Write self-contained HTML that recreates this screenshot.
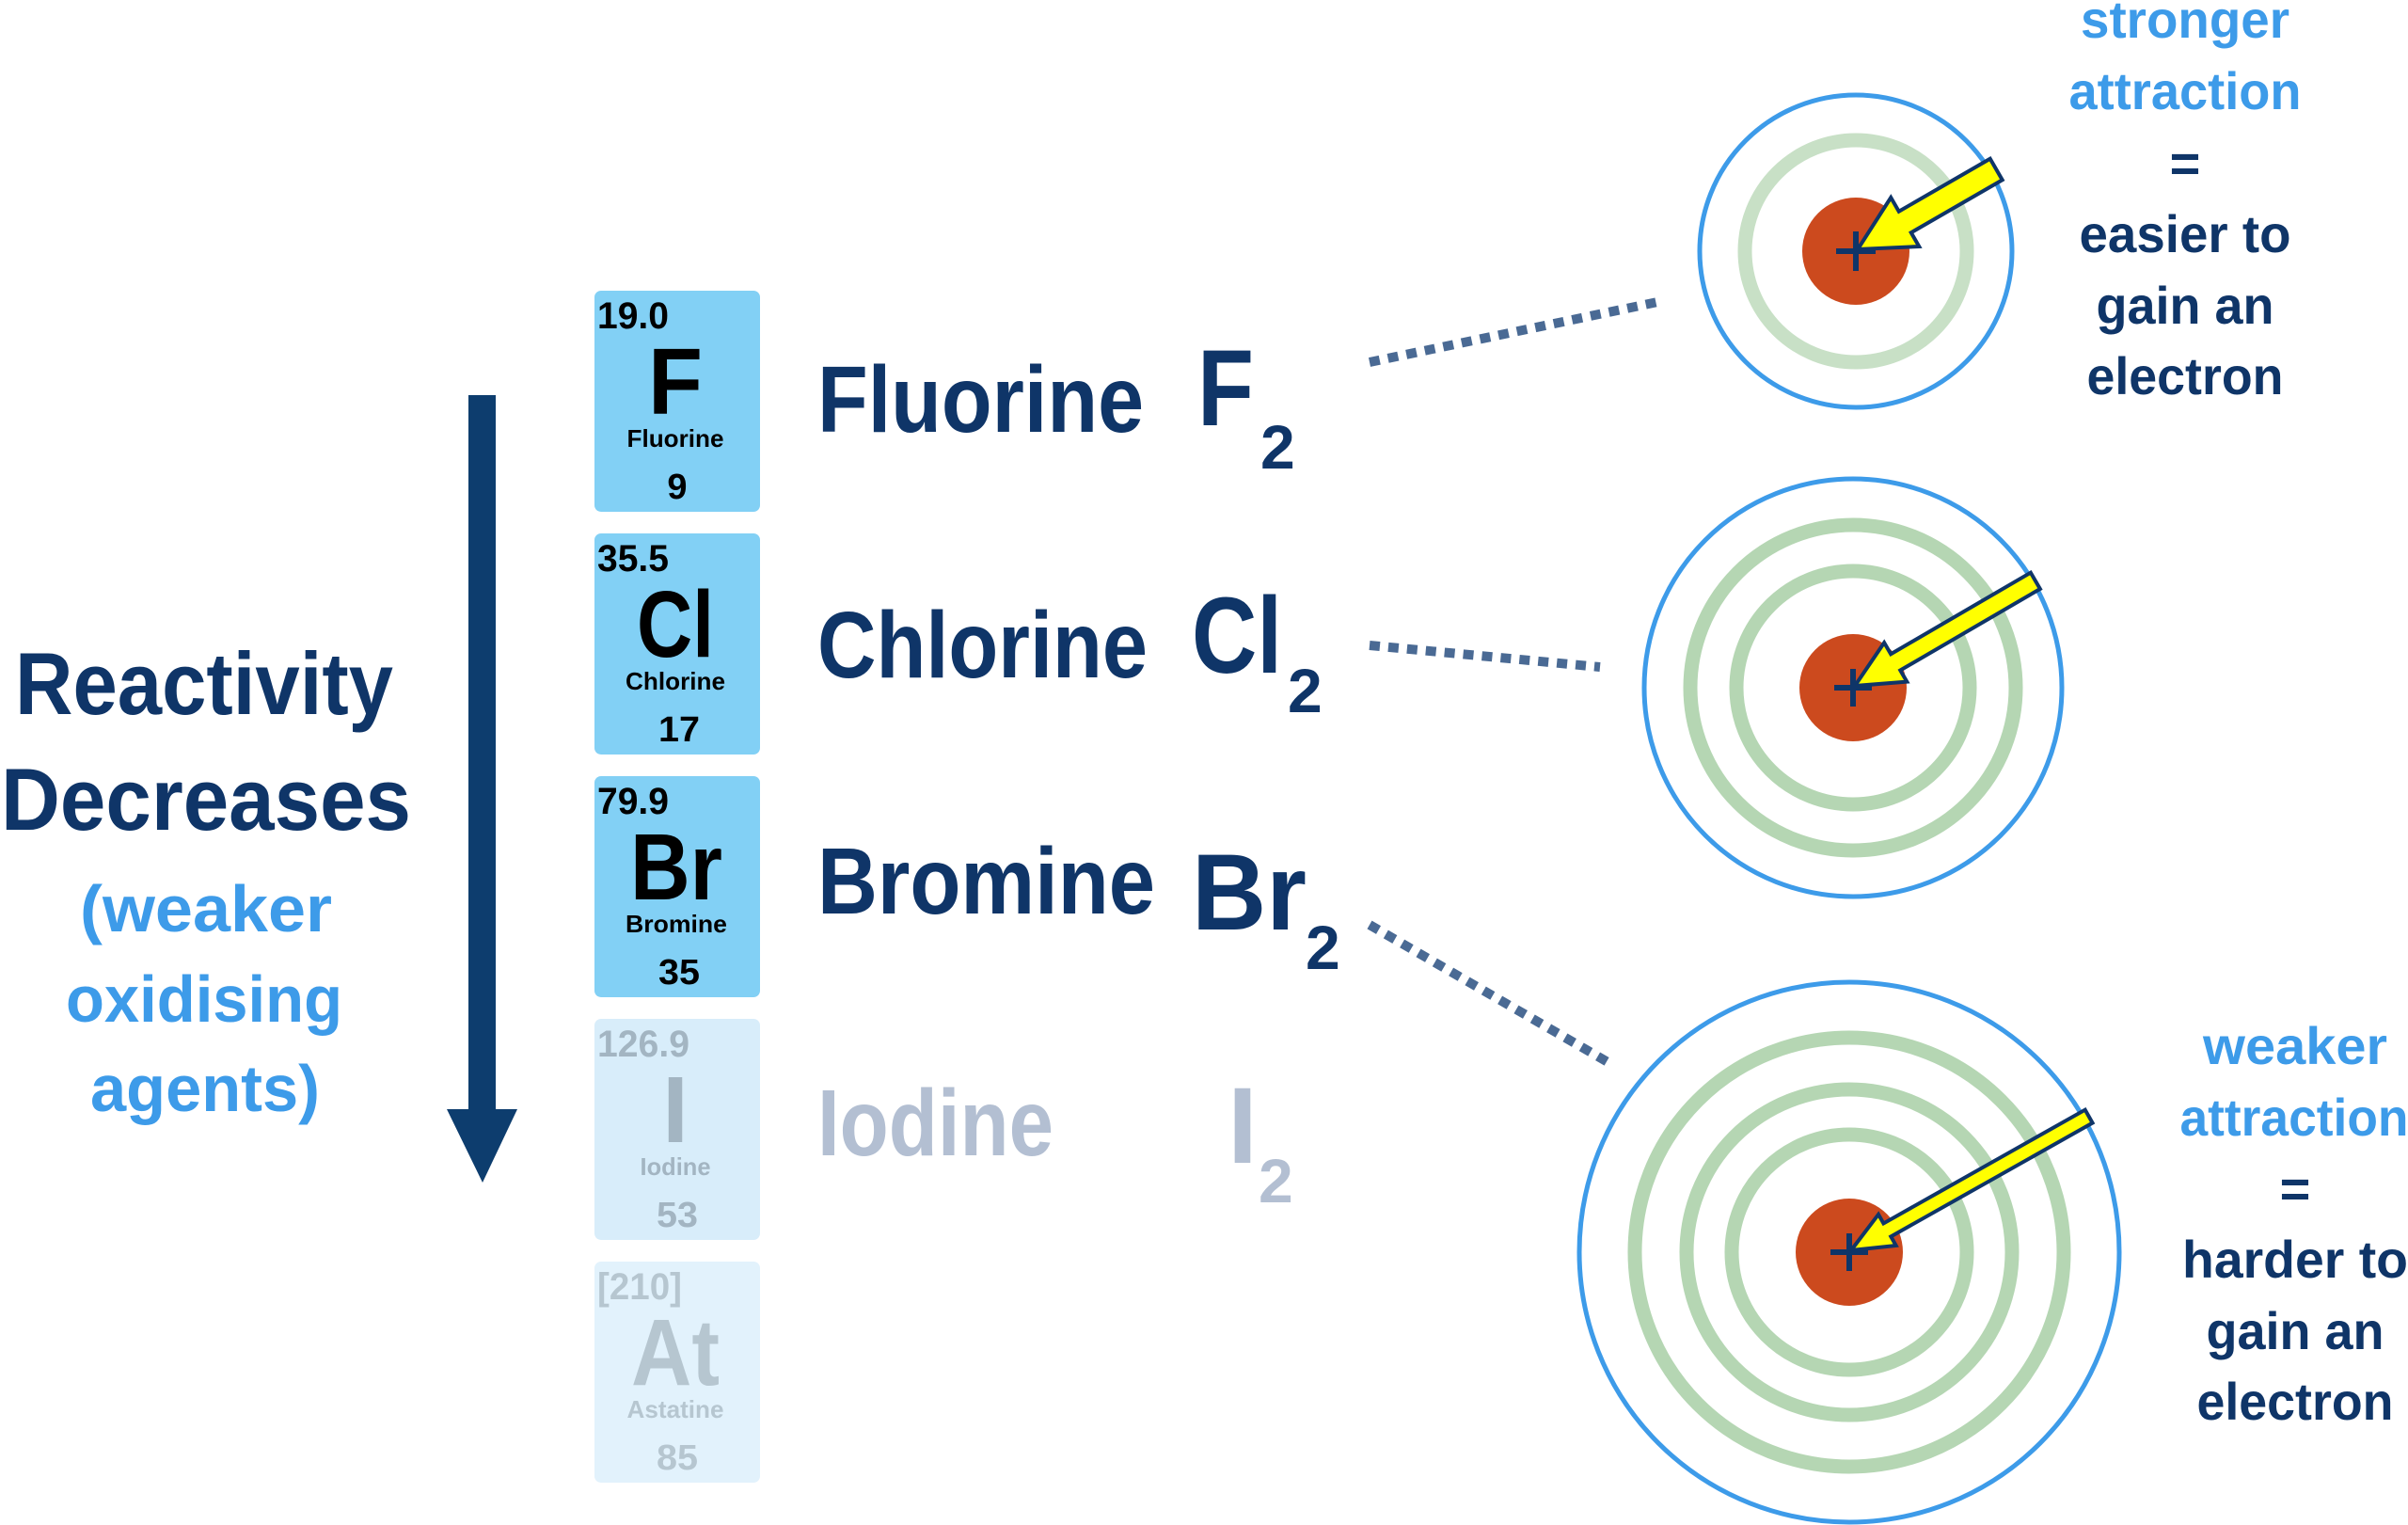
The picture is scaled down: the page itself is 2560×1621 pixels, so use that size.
<!DOCTYPE html>
<html><head><meta charset="utf-8"><style>
html,body{margin:0;padding:0;background:#fff;}
svg{display:block;}
text{font-family:"Liberation Sans",sans-serif;font-weight:bold;}
</style></head><body>
<svg width="2560" height="1621" viewBox="0 0 2560 1621" xmlns="http://www.w3.org/2000/svg">
<rect x="498" y="420" width="29" height="765" fill="#0d3d6e"/>
<polygon points="475,1179 550,1179 513,1257" fill="#0d3d6e"/>
<g text-anchor="middle" lengthAdjust="spacingAndGlyphs">
<text x="217" y="759" font-size="94" fill="#0f3568" textLength="402" lengthAdjust="spacingAndGlyphs">Reactivity</text>
<text x="219" y="882" font-size="94" fill="#0f3568" textLength="436" lengthAdjust="spacingAndGlyphs">Decreases</text>
<text x="219" y="990" font-size="70" fill="#3d9be9" font-weight="normal" textLength="268" lengthAdjust="spacingAndGlyphs">(weaker</text>
<text x="217" y="1086" font-size="70" fill="#3d9be9" font-weight="normal" textLength="294" lengthAdjust="spacingAndGlyphs">oxidising</text>
<text x="218" y="1181" font-size="70" fill="#3d9be9" font-weight="normal" textLength="244" lengthAdjust="spacingAndGlyphs">agents)</text>
</g>
<g>
<rect x="632" y="309" width="176" height="235" rx="7" fill="#82d0f5"/>
<rect x="632" y="567" width="176" height="235" rx="7" fill="#82d0f5"/>
<rect x="632" y="825" width="176" height="235" rx="7" fill="#82d0f5"/>
<rect x="632" y="1083" width="176" height="235" rx="7" fill="#d8edfa"/>
<rect x="632" y="1341" width="176" height="235" rx="7" fill="#e2f2fc"/>
</g>
<g font-weight="normal">
<text x="635" y="349" font-size="40" fill="#000" textLength="76" lengthAdjust="spacingAndGlyphs">19.0</text>
<text x="718" y="440" font-size="100" fill="#000" text-anchor="middle" textLength="58" lengthAdjust="spacingAndGlyphs">F</text>
<text x="718" y="475" font-size="26" fill="#000" text-anchor="middle" textLength="103" lengthAdjust="spacingAndGlyphs">Fluorine</text>
<text x="720" y="530" font-size="38" fill="#000" text-anchor="middle">9</text>

<text x="635" y="607" font-size="40" fill="#000" textLength="76" lengthAdjust="spacingAndGlyphs">35.5</text>
<text x="718" y="698" font-size="100" fill="#000" text-anchor="middle" textLength="82" lengthAdjust="spacingAndGlyphs">Cl</text>
<text x="718" y="733" font-size="26" fill="#000" text-anchor="middle" textLength="106" lengthAdjust="spacingAndGlyphs">Chlorine</text>
<text x="722" y="788" font-size="38" fill="#000" text-anchor="middle" textLength="44" lengthAdjust="spacingAndGlyphs">17</text>

<text x="635" y="865" font-size="40" fill="#000" textLength="76" lengthAdjust="spacingAndGlyphs">79.9</text>
<text x="719" y="956" font-size="100" fill="#000" text-anchor="middle" textLength="98" lengthAdjust="spacingAndGlyphs">Br</text>
<text x="719" y="991" font-size="26" fill="#000" text-anchor="middle" textLength="108" lengthAdjust="spacingAndGlyphs">Bromine</text>
<text x="722" y="1046" font-size="38" fill="#000" text-anchor="middle" textLength="44" lengthAdjust="spacingAndGlyphs">35</text>

<text x="635" y="1123" font-size="40" fill="#a3b5c2" textLength="98" lengthAdjust="spacingAndGlyphs">126.9</text>
<text x="718" y="1214" font-size="100" fill="#a3b5c2" text-anchor="middle">I</text>
<text x="718" y="1249" font-size="26" fill="#a3b5c2" text-anchor="middle" textLength="75" lengthAdjust="spacingAndGlyphs">Iodine</text>
<text x="720" y="1304" font-size="38" fill="#a3b5c2" text-anchor="middle" textLength="44" lengthAdjust="spacingAndGlyphs">53</text>

<text x="635" y="1381" font-size="40" fill="#b6c6d0" textLength="90" lengthAdjust="spacingAndGlyphs">[210]</text>
<text x="718" y="1472" font-size="100" fill="#b6c6d0" text-anchor="middle" textLength="94" lengthAdjust="spacingAndGlyphs">At</text>
<text x="718" y="1507" font-size="26" fill="#b6c6d0" text-anchor="middle" textLength="103" lengthAdjust="spacingAndGlyphs">Astatine</text>
<text x="720" y="1562" font-size="38" fill="#b6c6d0" text-anchor="middle" textLength="44" lengthAdjust="spacingAndGlyphs">85</text>
</g>
<g fill="#0f3568">
<text x="869" y="459" font-size="100" textLength="347" lengthAdjust="spacingAndGlyphs">Fluorine</text>
<text x="1273" y="452" font-size="115" textLength="60" lengthAdjust="spacingAndGlyphs">F</text>
<text x="1340" y="498" font-size="66" font-weight="normal">2</text>
<text x="869" y="720" font-size="100" textLength="351" lengthAdjust="spacingAndGlyphs">Chlorine</text>
<text x="1267" y="715" font-size="115" textLength="96" lengthAdjust="spacingAndGlyphs">Cl</text>
<text x="1369" y="757" font-size="66" font-weight="normal">2</text>
<text x="869" y="971" font-size="100" textLength="359" lengthAdjust="spacingAndGlyphs">Bromine</text>
<text x="1267" y="988" font-size="115" textLength="122" lengthAdjust="spacingAndGlyphs">Br</text>
<text x="1388" y="1030" font-size="66" font-weight="normal">2</text>
</g>
<g fill="#b3bfd2">
<text x="869" y="1228" font-size="100" textLength="251" lengthAdjust="spacingAndGlyphs">Iodine</text>
<text x="1305" y="1236" font-size="115">I</text>
<text x="1338" y="1278" font-size="66" font-weight="normal">2</text>
</g>
<g stroke="#4a6a94" stroke-width="10" stroke-dasharray="11 9" fill="none">
<line x1="1456" y1="385" x2="1767" y2="320"/>
<line x1="1456" y1="686" x2="1701" y2="709"/>
<line x1="1456" y1="983" x2="1711" y2="1130"/>
</g>
<circle cx="1973" cy="267" r="166" fill="none" stroke="#3d9be9" stroke-width="5"/>
<circle cx="1973" cy="267" r="118" fill="none" stroke="#c8e0c6" stroke-width="15"/>
<circle cx="1973" cy="267" r="57" fill="#cc4a1e"/>
<g transform="translate(1975,265) rotate(-30)">
<polygon points="0,0 58,-30 58,-13 170,-13 170,13 58,13 58,30" fill="#ffff00" stroke="#0f3568" stroke-width="4"/>
</g>
<path d="M1952 267 H1994 M1973 246 V288" stroke="#0f3568" stroke-width="6"/>
<circle cx="1970" cy="731" r="222" fill="none" stroke="#3d9be9" stroke-width="5"/>
<circle cx="1970" cy="731" r="173" fill="none" stroke="#b5d6b3" stroke-width="15"/>
<circle cx="1970" cy="731" r="124" fill="none" stroke="#b5d6b3" stroke-width="15"/>
<circle cx="1970" cy="731" r="57" fill="#cc4a1e"/>
<g transform="translate(1972,729) rotate(-30.2)">
<polygon points="0,0 50,-24 50,-10 222,-10 222,10 50,10 50,24" fill="#ffff00" stroke="#0f3568" stroke-width="4"/>
</g>
<path d="M1950 731 H1990 M1970 711 V751" stroke="#0f3568" stroke-width="6"/>
<circle cx="1966" cy="1331" r="287" fill="none" stroke="#3d9be9" stroke-width="5"/>
<circle cx="1966" cy="1331" r="228" fill="none" stroke="#b5d6b3" stroke-width="15"/>
<circle cx="1966" cy="1331" r="173" fill="none" stroke="#b5d6b3" stroke-width="15"/>
<circle cx="1966" cy="1331" r="125" fill="none" stroke="#b5d6b3" stroke-width="15"/>
<circle cx="1966" cy="1331" r="57" fill="#cc4a1e"/>
<g transform="translate(1968,1329) rotate(-29.4)">
<polygon points="0,0 44,-19 44,-8 290,-8 290,8 44,8 44,19" fill="#ffff00" stroke="#0f3568" stroke-width="4"/>
</g>
<path d="M1946 1331 H1986 M1966 1311 V1351" stroke="#0f3568" stroke-width="6"/>
<g text-anchor="middle" font-size="56">
<text x="2323" y="40" fill="#3d9be9" textLength="222" lengthAdjust="spacingAndGlyphs">stronger</text>
<text x="2323" y="116" fill="#3d9be9" textLength="247" lengthAdjust="spacingAndGlyphs">attraction</text>
<text x="2323" y="193" fill="#0f3568">=</text>
<text x="2323" y="268" fill="#0f3568" textLength="225" lengthAdjust="spacingAndGlyphs">easier to</text>
<text x="2323" y="344" fill="#0f3568" textLength="189" lengthAdjust="spacingAndGlyphs">gain an</text>
<text x="2323" y="419" fill="#0f3568" textLength="209" lengthAdjust="spacingAndGlyphs">electron</text>
<text x="2440" y="1131" fill="#3d9be9" textLength="196" lengthAdjust="spacingAndGlyphs">weaker</text>
<text x="2439" y="1207" fill="#3d9be9" textLength="243" lengthAdjust="spacingAndGlyphs">attraction</text>
<text x="2440" y="1283" fill="#0f3568">=</text>
<text x="2440" y="1358" fill="#0f3568" textLength="240" lengthAdjust="spacingAndGlyphs">harder to</text>
<text x="2440" y="1434" fill="#0f3568" textLength="189" lengthAdjust="spacingAndGlyphs">gain an</text>
<text x="2440" y="1509" fill="#0f3568" textLength="209" lengthAdjust="spacingAndGlyphs">electron</text>
</g>
</svg>
</body></html>
